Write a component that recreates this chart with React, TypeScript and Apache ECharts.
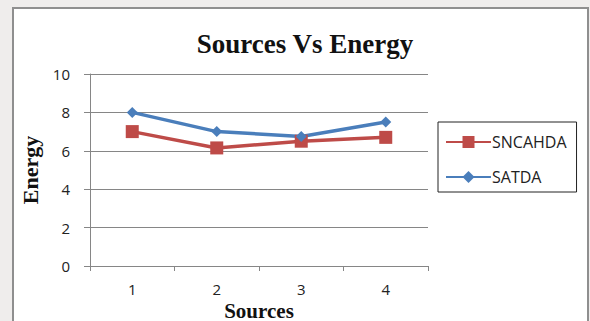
import React, { useEffect, useRef } from "react";
import * as echarts from "echarts";

const categories = ["1", "2", "3", "4"];
const sncahda = [7.0, 6.15, 6.5, 6.7];
const satda = [8.0, 7.0, 6.75, 7.5];
const seriesNames = ["SNCAHDA", "SATDA"];
const titleText = "Sources Vs Energy";
const xName = "Sources";
const yName = "Energy";

export default function App() {
  const ref = useRef<HTMLDivElement>(null);
  useEffect(() => {
    if (!ref.current) return;
    const chart = echarts.init(ref.current, null, { renderer: "svg" });
    const serif = "Liberation Serif";
    const sans = "Open Sans";
    chart.setOption({
      animation: false,
      backgroundColor: "#efedec",
      graphic: [
        {
          type: "rect",
          shape: { x: 13, y: 8, width: 575, height: 400 },
          style: { fill: "#ffffff", stroke: "#8f8f8f", lineWidth: 2 },
          z: -10,
        },
      ],
      title: {
        text: titleText,
        left: 300,
        textAlign: "center",
        top: 25,
        textStyle: { fontFamily: serif, fontWeight: "bold", fontSize: 27, color: "#111" },
      },
      legend: {
        orient: "vertical",
        left: 438,
        top: 122,
        data: seriesNames,
        itemWidth: 45,
        itemHeight: 15,
        itemGap: 19,
        padding: [12, 10, 7, 7],
        borderColor: "#222",
        borderWidth: 1,
        textStyle: { fontFamily: sans, fontSize: 16, color: "#222", padding: [0, 0, 0, -4] },
      },
      grid: { left: 90, top: 74, width: 338, height: 192, outerBoundsMode: "none", containLabel: false },
      xAxis: {
        type: "category",
        data: categories,
        boundaryGap: true,
        name: xName,
        nameLocation: "middle",
        nameGap: 27,
        nameTextStyle: { fontFamily: serif, fontWeight: "bold", fontSize: 21, lineHeight: 21, color: "#111" },
        axisLine: { lineStyle: { color: "#868686", width: 1 } },
        axisTick: { show: true, alignWithLabel: false, length: 5, lineStyle: { color: "#868686" } },
        axisLabel: { margin: 15, fontFamily: sans, fontSize: 15, color: "#222" },
      },
      yAxis: {
        type: "value",
        min: 0,
        max: 10,
        interval: 2,
        name: yName,
        nameLocation: "middle",
        nameGap: 47,
        nameTextStyle: { fontFamily: serif, fontWeight: "bold", fontSize: 22, color: "#111" },
        axisLine: { show: true, lineStyle: { color: "#868686", width: 1 } },
        axisTick: { show: true, length: 6, lineStyle: { color: "#868686" } },
        axisLabel: { margin: 20, fontFamily: sans, fontSize: 15, color: "#222" },
        splitLine: { show: true, lineStyle: { color: "#868686", width: 1 } },
      },
      series: [
        {
          name: seriesNames[0],
          type: "line",
          data: sncahda,
          symbol: "rect",
          symbolSize: 13,
          lineStyle: { color: "#BE4B48", width: 3.5 },
          itemStyle: { color: "#BE4B48" },
        },
        {
          name: seriesNames[1],
          type: "line",
          data: satda,
          symbol: "diamond",
          symbolSize: 11,
          lineStyle: { color: "#4A7EBB", width: 3.5 },
          itemStyle: { color: "#4A7EBB" },
        },
      ],
    });
    return () => chart.dispose();
  }, []);
  return (
    <div
      ref={ref}
      style={{ position: "fixed", left: 0, top: 0, width: 590, height: 321 }}
    />
  );
}
